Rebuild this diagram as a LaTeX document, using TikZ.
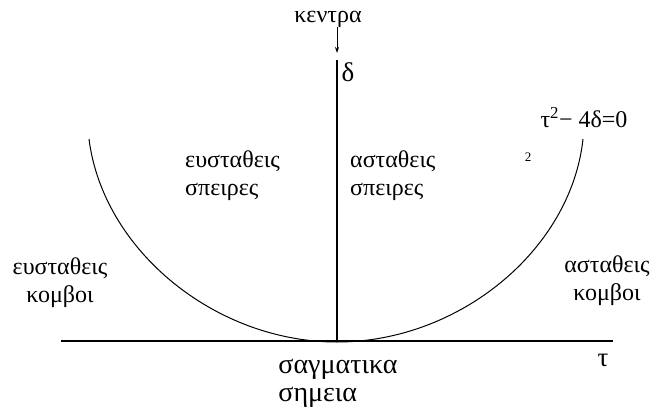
\documentclass[tikz,border=0pt]{standalone}
\usepackage{fontspec}
\setmainfont{Liberation Serif}
\usetikzlibrary{arrows.meta}

\begin{document}
\begin{tikzpicture}[x=1pt,y=-1pt,
  axis/.style={line width=1.1pt},
  curve/.style={line width=1pt},
  greek/.style={font=\fontsize{24}{28}\selectfont, inner sep=0pt},
  region/.style={greek, align=left, anchor=west},
  bigger/.style={font=\fontsize{27}{30}\selectfont, inner sep=0pt},
  saddletext/.style={font=\fontsize{28}{32}\selectfont, inner sep=0pt}
]
\useasboundingbox (0,0) rectangle (660,412);

% axes
\coordinate (O) at (337,341);
\coordinate (xstart) at (61,341);
\coordinate (xend) at (613,341);
\coordinate (ytop) at (337,60);
\draw[axis] (xstart) -- (xend);
\draw[axis] (O) -- (ytop);

% tau^2 - 4 delta = 0
\draw[curve] (89,139) .. controls (103,250) and (215,342) .. (337,342)
  .. controls (459,342) and (571,250) .. (583,139);

\node[greek] (kentra) at (328,19) {κεντρα};
\coordinate (tip) at (337,53);
\draw[-{Stealth[length=6pt,width=4pt]}, line width=1pt] (kentra.south -| tip) -- (tip);
\node[bigger] (delta) at (348,72) {δ};
\node[bigger] (tau) at (603,360) {τ};

\node[greek] (parab) at (584,118) {τ\textsuperscript{2}− 4δ=0};
\node[font=\fontsize{13}{15}\selectfont, inner sep=0pt] (two) at (528,157) {2};

\node[region] (stabspir) at (185,176) {ευσταθεις\\σπειρες};
\node[region] (unstspir) at (350,176) {ασταθεις\\σπειρες};
\node[greek, align=center] (stabnode) at (60,283) {ευσταθεις\\κομβοι};
\node[greek, align=center] (unstnode) at (607,281) {ασταθεις\\κομβοι};

\node[saddletext] (saddle) at (338,369) {σαγματικα};
\node[saddletext, anchor=west] (points) at (saddle.west |- 0,397) {σημεια};
\end{tikzpicture}
\end{document}
